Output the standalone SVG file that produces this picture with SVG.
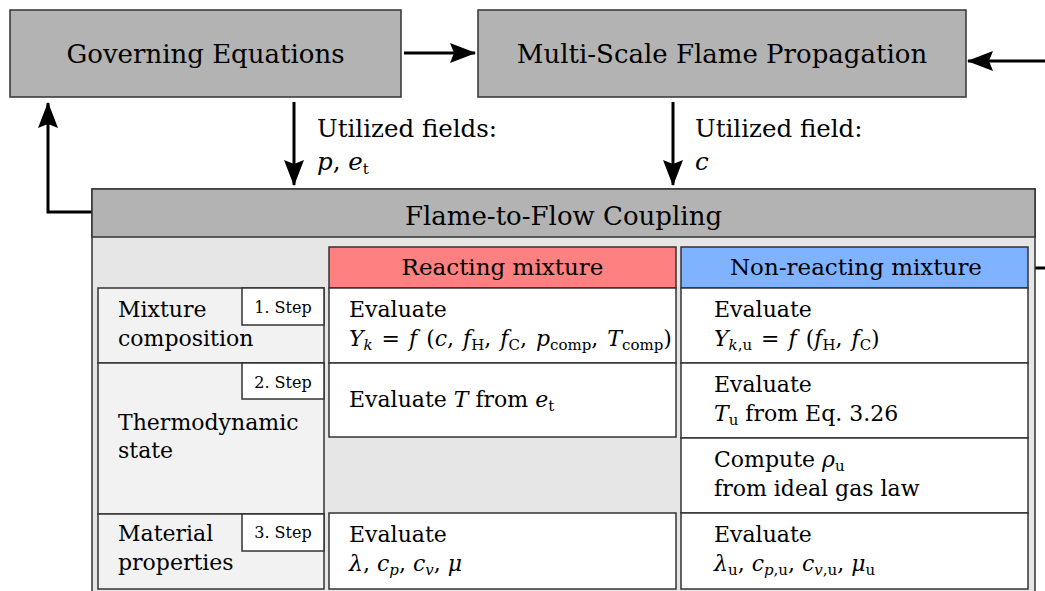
<svg xmlns="http://www.w3.org/2000/svg" width="1045" height="591" viewBox="0 0 1045 591">
<style>
text{font-family:"DejaVu Serif",serif;fill:#000}
.box{fill:#b3b3b3;stroke:#333;stroke-width:1.5}
.cell{fill:#fff;stroke:#333;stroke-width:1.5}
.lcell{fill:#f2f2f2;stroke:#333;stroke-width:1.5}
.big{font-size:26px}
.hd{font-size:26px}
.sub{font-size:23px}
.lbl{font-size:24.5px}
.b{font-size:22px}
.st{font-size:16px}
.i{font-style:italic}
.s{font-size:15px}
.c{stroke:#000;stroke-width:3;fill:none}
</style>
<defs>
<marker id="ah" markerUnits="userSpaceOnUse" markerWidth="26" markerHeight="20" refX="25" refY="10" orient="auto">
<path d="M0,0 L26,10 L0,20 L4,10 Z" fill="#000"/>
</marker>
</defs>

<g id="connectors">
<line class="c" x1="404" y1="53" x2="475" y2="53" marker-end="url(#ah)"/>
<line class="c" x1="1045" y1="61" x2="968" y2="61" marker-end="url(#ah)"/>
<line class="c" x1="294" y1="102" x2="294" y2="185" marker-end="url(#ah)"/>
<line class="c" x1="673" y1="102" x2="673" y2="185" marker-end="url(#ah)"/>
<polyline class="c" points="92,212 48,212 48,103" marker-end="url(#ah)"/>
<line class="c" x1="1028" y1="268" x2="1045" y2="268"/>
<text class="lbl" x="317" y="137">Utilized fields:</text>
<text class="lbl" x="317" y="170"><tspan class="i">p</tspan>, <tspan class="i">e</tspan><tspan class="s" dy="4">t</tspan></text>
<text class="lbl" x="695" y="137">Utilized field:</text>
<text class="lbl" x="695" y="170"><tspan class="i">c</tspan></text>
</g>

<g id="governing">
<rect class="box" x="10" y="10" width="391" height="87"/>
<text class="big" x="205.5" y="63" text-anchor="middle">Governing Equations</text>
</g>

<g id="multiscale">
<rect class="box" x="478" y="10" width="488" height="87"/>
<text class="big" x="722" y="63" text-anchor="middle">Multi-Scale Flame Propagation</text>
</g>

<g id="coupling">
<rect x="92" y="189" width="943" height="406" fill="#e6e6e6" stroke="#333" stroke-width="1.5"/>
<rect class="box" x="92" y="189" width="943" height="48"/>
<text class="hd" x="563.5" y="225" text-anchor="middle">Flame-to-Flow Coupling</text>
</g>

<g id="reacting-header">
<rect x="329" y="247" width="347" height="41" fill="#ff8080" stroke="#333" stroke-width="1.5"/>
<text class="sub" x="502.5" y="275" text-anchor="middle">Reacting mixture</text>
</g>

<g id="nonreacting-header">
<rect x="681" y="247" width="347" height="41" fill="#80b3ff" stroke="#333" stroke-width="1.5"/>
<text class="sub" x="856" y="275" text-anchor="middle">Non-reacting mixture</text>
</g>

<g id="step1">
<rect class="lcell" x="98" y="288" width="226" height="75"/>
<rect class="cell" x="242" y="288" width="82" height="37"/>
<text class="st" x="283" y="313" text-anchor="middle">1. Step</text>
<text class="b" x="118" y="317">Mixture</text>
<text class="b" x="118" y="346">composition</text>
</g>

<g id="step2">
<rect class="lcell" x="98" y="363" width="226" height="151"/>
<rect class="cell" x="242" y="363" width="82" height="36"/>
<text class="st" x="283" y="388" text-anchor="middle">2. Step</text>
<text class="b" x="118" y="430">Thermodynamic</text>
<text class="b" x="118" y="458">state</text>
</g>

<g id="step3">
<rect class="lcell" x="98" y="514" width="226" height="75"/>
<rect class="cell" x="242" y="514" width="82" height="37"/>
<text class="st" x="283" y="538" text-anchor="middle">3. Step</text>
<text class="b" x="118" y="541">Material</text>
<text class="b" x="118" y="570">properties</text>
</g>

<g id="r-composition">
<rect class="cell" x="329" y="288" width="347" height="75"/>
<text class="b" x="349" y="317">Evaluate</text>
<text class="b" x="349" y="346" word-spacing="2"><tspan class="i">Y</tspan><tspan class="s i" dy="4">k</tspan><tspan dy="-4"> = </tspan><tspan class="i">f</tspan> (<tspan class="i">c</tspan>, <tspan class="i">f</tspan><tspan class="s" dy="4">H</tspan><tspan dy="-4">, </tspan><tspan class="i">f</tspan><tspan class="s" dy="4">C</tspan><tspan dy="-4">, </tspan><tspan class="i">p</tspan><tspan class="s" dy="4">comp</tspan><tspan dy="-4">, </tspan><tspan class="i">T</tspan><tspan class="s" dy="4">comp</tspan><tspan dy="-4">)</tspan></text>
</g>

<g id="r-thermo">
<rect class="cell" x="329" y="363" width="347" height="74"/>
<text class="b" x="349" y="407">Evaluate <tspan class="i">T</tspan> from <tspan class="i">e</tspan><tspan class="s" dy="4">t</tspan></text>
</g>

<g id="r-material">
<rect class="cell" x="329" y="513" width="347" height="76"/>
<text class="b" x="349" y="542">Evaluate</text>
<text class="b" x="349" y="571"><tspan class="i">λ</tspan>, <tspan class="i">c</tspan><tspan class="s i" dy="4">p</tspan><tspan dy="-4">, </tspan><tspan class="i">c</tspan><tspan class="s i" dy="4">v</tspan><tspan dy="-4">, </tspan><tspan class="i">μ</tspan></text>
</g>

<g id="n-composition">
<rect class="cell" x="681" y="288" width="347" height="75"/>
<text class="b" x="714" y="317">Evaluate</text>
<text class="b" x="714" y="346" word-spacing="2"><tspan class="i">Y</tspan><tspan class="s" dy="4"><tspan class="i">k</tspan>,u</tspan><tspan dy="-4"> = </tspan><tspan class="i">f</tspan> (<tspan class="i">f</tspan><tspan class="s" dy="4">H</tspan><tspan dy="-4">, </tspan><tspan class="i">f</tspan><tspan class="s" dy="4">C</tspan><tspan dy="-4">)</tspan></text>
</g>

<g id="n-thermo">
<rect class="cell" x="681" y="363" width="347" height="75"/>
<text class="b" x="714" y="392">Evaluate</text>
<text class="b" x="714" y="421"><tspan class="i">T</tspan><tspan class="s" dy="4">u</tspan><tspan dy="-4"> from Eq. 3.26</tspan></text>
</g>

<g id="n-density">
<rect class="cell" x="681" y="438" width="347" height="75"/>
<text class="b" x="714" y="467">Compute <tspan class="i">ρ</tspan><tspan class="s" dy="4">u</tspan></text>
<text class="b" x="714" y="496">from ideal gas law</text>
</g>

<g id="n-material">
<rect class="cell" x="681" y="513" width="347" height="76"/>
<text class="b" x="714" y="542">Evaluate</text>
<text class="b" x="714" y="571"><tspan class="i">λ</tspan><tspan class="s" dy="4">u</tspan><tspan dy="-4">, </tspan><tspan class="i">c</tspan><tspan class="s" dy="4"><tspan class="i">p</tspan>,u</tspan><tspan dy="-4">, </tspan><tspan class="i">c</tspan><tspan class="s" dy="4"><tspan class="i">v</tspan>,u</tspan><tspan dy="-4">, </tspan><tspan class="i">μ</tspan><tspan class="s" dy="4">u</tspan></text>
</g>
</svg>
